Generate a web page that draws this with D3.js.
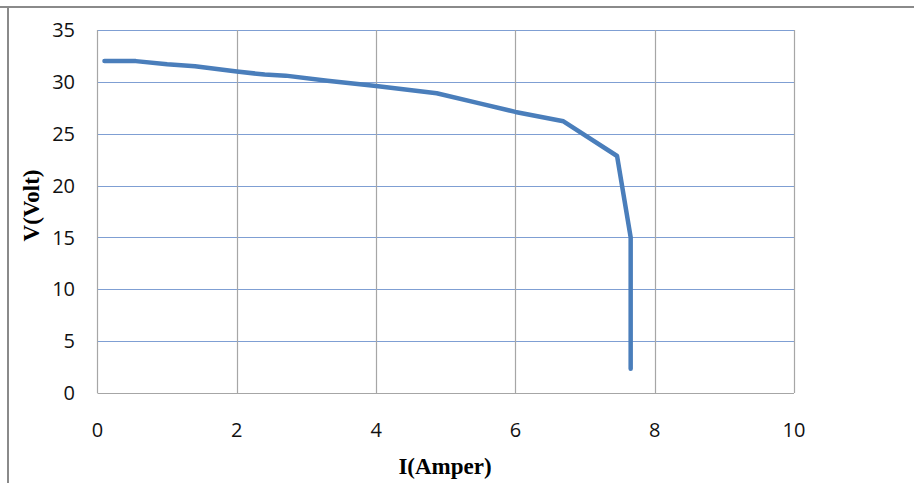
<!DOCTYPE html>
<html><head><meta charset="utf-8">
<script src="https://cdn.jsdelivr.net/npm/d3@7"></script>
<style>body{margin:0;background:#fff}svg{display:block}</style>
</head><body>
<script>
const currentI = [0.1, 0.55, 1.0, 1.4, 2.0, 2.4, 2.7, 3.3, 4.0, 4.87, 5.5, 6.0, 6.69, 7.46, 7.655, 7.655];
const voltageV = [32.0, 32.0, 31.7, 31.5, 31.0, 30.7, 30.6, 30.1, 29.6, 28.9, 27.9, 27.1, 26.2, 22.85, 15.0, 2.35];
const xTicks = [0, 2, 4, 6, 8, 10];
const yTicks = [0, 5, 10, 15, 20, 25, 30, 35];

const W = 914, H = 483;
const svg = d3.select("body").append("svg").attr("width", W).attr("height", H);
const L = 97.5, R = 794, T = 30, B = 393;
const x = d3.scaleLinear().domain([0, 10]).range([L, R]);
const y = d3.scaleLinear().domain([0, 35]).range([B, T]);

// outer frame
svg.append("line").attr("x1", 0).attr("x2", W).attr("y1", 7).attr("y2", 7).attr("stroke", "#8a8a8a").attr("stroke-width", 2);
svg.append("line").attr("x1", 8).attr("x2", 8).attr("y1", 7).attr("y2", H).attr("stroke", "#8a8a8a").attr("stroke-width", 2);

// horizontal gridlines
svg.append("g").selectAll("line").data(yTicks.filter(d => d > 0)).join("line")
  .attr("x1", L).attr("x2", R).attr("y1", d => Math.round(y(d)) + 0.5).attr("y2", d => Math.round(y(d)) + 0.5)
  .attr("stroke", "#7f9fd3").attr("stroke-width", 1.2);
// vertical gridlines
svg.append("g").selectAll("line").data(xTicks.filter(d => d > 0)).join("line")
  .attr("x1", d => Math.round(x(d)) + 0.5).attr("x2", d => Math.round(x(d)) + 0.5).attr("y1", T).attr("y2", B)
  .attr("stroke", "#a6a6a6").attr("stroke-width", 1.2);
// axis lines
svg.append("line").attr("x1", L).attr("x2", R).attr("y1", B + 0.5).attr("y2", B + 0.5).attr("stroke", "#a6a6a6").attr("stroke-width", 1.2);
svg.append("line").attr("x1", L).attr("x2", L).attr("y1", T).attr("y2", B).attr("stroke", "#a6a6a6").attr("stroke-width", 1.2);

// tick labels
const font = "'Open Sans', 'Liberation Sans', sans-serif";
svg.append("g").selectAll("text").data(yTicks).join("text")
  .attr("x", 75).attr("y", d => y(d)).attr("dy", "0.36em").attr("text-anchor", "end")
  .attr("font-family", font).attr("font-size", 20).attr("fill", "#111").text(d => d);
svg.append("g").selectAll("text").data(xTicks).join("text")
  .attr("x", d => x(d)).attr("y", 430).attr("dy", "0.36em").attr("text-anchor", "middle")
  .attr("font-family", font).attr("font-size", 20).attr("fill", "#111").text(d => d);

// axis titles
svg.append("text").attr("x", 445).attr("y", 466).attr("dy", "0.35em").attr("text-anchor", "middle")
  .attr("font-family", "'Liberation Serif', serif").attr("font-weight", "bold").attr("font-size", 23).text("I(Amper)");
svg.append("text").attr("transform", `translate(31,205.5) rotate(-90)`).attr("dy", "0.35em").attr("text-anchor", "middle")
  .attr("font-family", "'Liberation Serif', serif").attr("font-weight", "bold").attr("font-size", 23).text("V(Volt)");

// data line
const pts = currentI.map((d, i) => [d, voltageV[i]]);
svg.append("path").datum(pts)
  .attr("d", d3.line().x(d => x(d[0])).y(d => y(d[1])))
  .attr("fill", "none").attr("stroke", "#4a7ebb").attr("stroke-width", 4.5)
  .attr("stroke-linejoin", "round").attr("stroke-linecap", "round");
</script>
</body></html>
